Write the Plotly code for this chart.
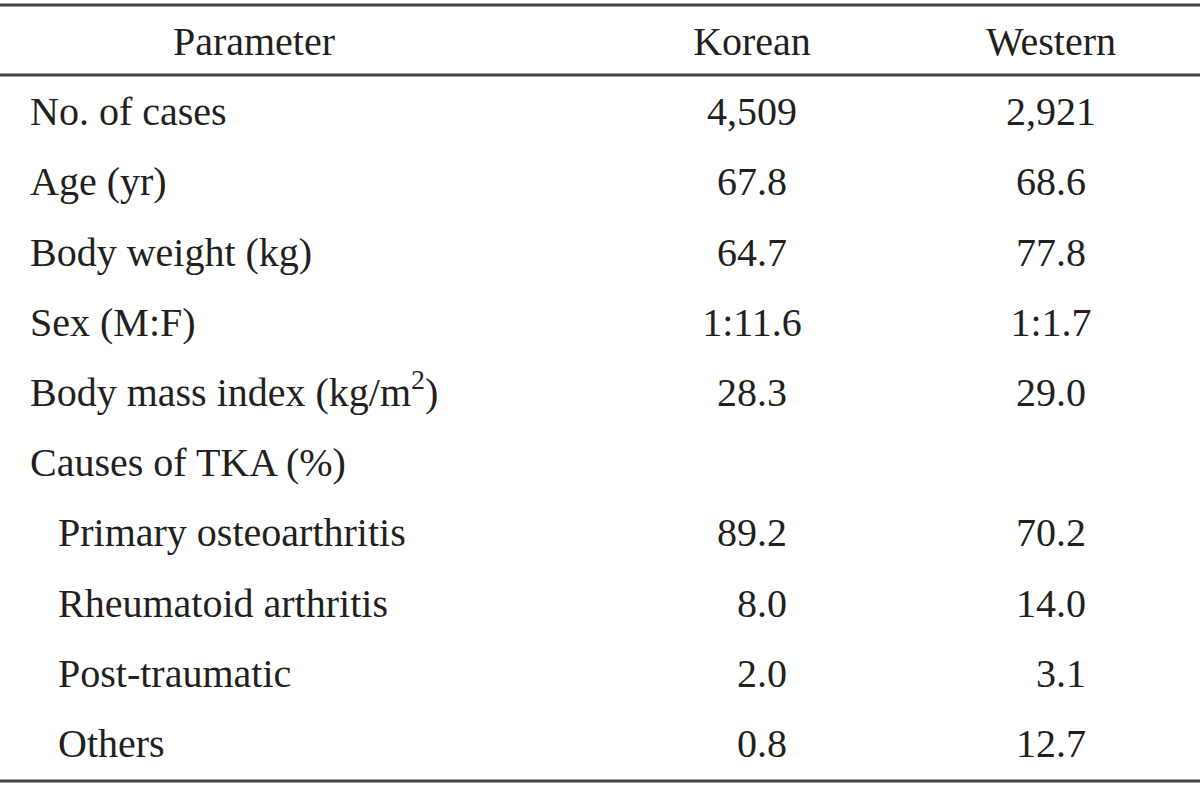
import plotly.graph_objects as go

# ---- data ----
header_labels = ["Parameter", "Korean", "Western"]
parameters = [
    "No. of cases",
    "Age (yr)",
    "Body weight (kg)",
    "Sex (M:F)",
    "Body mass index (kg/m<sup>2</sup>)",
    "Causes of TKA (%)",
    "Primary osteoarthritis",
    "Rheumatoid arthritis",
    "Post-traumatic",
    "Others",
]
indent_level = [0, 0, 0, 0, 0, 0, 1, 1, 1, 1]
korean = ["4,509", "67.8", "64.7", "1:11.6", "28.3", "", "89.2", "8.0", "2.0", "0.8"]
western = ["2,921", "68.6", "77.8", "1:1.7", "29.0", "", "70.2", "14.0", "3.1", "12.7"]

# ---- layout constants ----
W, H = 1200, 786
FONT = dict(family="Liberation Serif, Times New Roman, serif", size=40, color="#231f20")
LABEL_X = [30, 58]          # x of label start for indent level 0 / 1
PARAM_HEAD_X = 254
KOREAN_X = 752
WESTERN_X = 1051
ROW0_PX, ROW_STEP_PX = 45, 70.2   # pixel centre of header row and row pitch
RULE_COLOR = "#444444"


def pad(v):
    # figure-space padding so single-digit decimals line up as in print
    if v and v[0].isdigit() and "." in v and len(v.split(".")[0]) == 1 and ":" not in v:
        return "\u2007" + v
    return v


row_keys = ["__header__"] + parameters

fig = go.Figure()

# header row
fig.add_trace(go.Scatter(
    x=[PARAM_HEAD_X, KOREAN_X, WESTERN_X],
    y=["__header__"] * 3,
    text=header_labels,
    mode="text",
    textposition="middle center",
    textfont=FONT,
    hoverinfo="skip",
    showlegend=False,
))

# parameter labels (left aligned)
fig.add_trace(go.Scatter(
    x=[LABEL_X[l] for l in indent_level],
    y=parameters,
    text=parameters,
    mode="text",
    textposition="middle right",
    textfont=FONT,
    hoverinfo="skip",
    showlegend=False,
))


def value_trace(values, xpos):
    rows = [(p, pad(v)) for p, v in zip(parameters, values) if v]
    return go.Scatter(
        x=[xpos] * len(rows),
        y=[r[0] for r in rows],
        text=[r[1] for r in rows],
        mode="text",
        textposition="middle center",
        textfont=FONT,
        hoverinfo="skip",
        showlegend=False,
    )


fig.add_trace(value_trace(korean, KOREAN_X))
fig.add_trace(value_trace(western, WESTERN_X))


def px_to_row(p):
    return (p - ROW0_PX) / ROW_STEP_PX


for rule_px in (5, 75, 781):
    yv = px_to_row(rule_px)
    fig.add_shape(type="line", xref="x", yref="y", x0=0, x1=W, y0=yv, y1=yv,
                  line=dict(color=RULE_COLOR, width=3))

fig.update_layout(
    width=W, height=H,
    margin=dict(l=0, r=0, t=0, b=0),
    paper_bgcolor="white", plot_bgcolor="white",
    xaxis=dict(range=[0, W], visible=False, fixedrange=True),
    yaxis=dict(type="category", categoryorder="array", categoryarray=row_keys,
               range=[px_to_row(H), px_to_row(0)], visible=False, fixedrange=True),
    showlegend=False,
)

fig.write_html("out.html", config={"displayModeBar": False},
               post_script="document.body.style.margin='0';")
